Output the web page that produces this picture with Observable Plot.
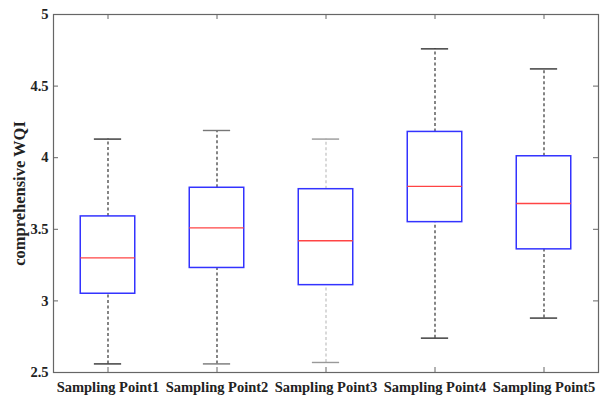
<!DOCTYPE html>
<html>
<head>
<meta charset="utf-8">
<script src="https://cdn.jsdelivr.net/npm/d3@7"></script>
<script src="https://cdn.jsdelivr.net/npm/@observablehq/plot@0.6"></script>
<style>
  html, body { margin: 0; padding: 0; background: #fff; }
</style>
</head>
<body>
<div id="chart"></div>
<script>
const categories = ["Sampling Point1", "Sampling Point2", "Sampling Point3", "Sampling Point4", "Sampling Point5"];
const lowWhisker = [2.56, 2.56, 2.57, 2.74, 2.88];
const q1Values   = [3.05, 3.23, 3.11, 3.55, 3.36];
const medians    = [3.30, 3.51, 3.42, 3.80, 3.68];
const q3Values   = [3.59, 3.79, 3.78, 4.18, 4.01];
const highWhisker= [4.13, 4.19, 4.13, 4.76, 4.62];
const yTicks = [2.5, 3, 3.5, 4, 4.5, 5];

const data = categories.map((cat, i) => ({
  cat, i, lo: lowWhisker[i], q1: q1Values[i], med: medians[i], q3: q3Values[i], hi: highWhisker[i]
}));

const W = 601, H = 395, mL = 53, mR = 3, mT = 14, mB = 23;
const plotW = W - mL - mR, plotH = H - mT - mB;
const band = plotW / categories.length;
const boxInset = band * 0.25;
const capInset = band * 0.375;
const whiskerColor = d => d.i === 2 ? "#bbb" : "#222";
const capColor = d => d.i === 2 ? "#999" : (d.i === 1 ? "#777" : "#333");
const font = "'Liberation Serif', 'Times New Roman', serif";

const chart = Plot.plot({
  width: W, height: H,
  marginLeft: mL, marginRight: mR, marginTop: mT, marginBottom: mB,
  style: {fontFamily: font, fontSize: "14.5px", fontWeight: "bold", color: "#222", background: "#fff"},
  x: {type: "band", domain: categories, padding: 0},
  y: {domain: [2.5, 5]},
  marks: [
    Plot.frame({stroke: "#666", strokeWidth: 1.2}),
    // inward ticks
    Plot.ruleY(yTicks.slice(1, -1), {y: d => d, stroke: "#666", insetRight: plotW - 5}),
    Plot.ruleY(yTicks.slice(1, -1), {y: d => d, stroke: "#666", insetLeft: plotW - 5}),
    Plot.ruleX(categories, {x: d => d, stroke: "#666", insetTop: plotH - 5}),
    Plot.ruleX(categories, {x: d => d, stroke: "#666", insetBottom: plotH - 5}),
    // whiskers
    Plot.ruleX(data, {x: "cat", y1: "q3", y2: "hi", stroke: whiskerColor, strokeDasharray: "3,2.5", strokeWidth: 1.1}),
    Plot.ruleX(data, {x: "cat", y1: "lo", y2: "q1", stroke: whiskerColor, strokeDasharray: "3,2.5", strokeWidth: 1.1}),
    Plot.tickY(data, {x: "cat", y: "hi", stroke: capColor, strokeWidth: 1.4, insetLeft: capInset, insetRight: capInset}),
    Plot.tickY(data, {x: "cat", y: "lo", stroke: capColor, strokeWidth: 1.4, insetLeft: capInset, insetRight: capInset}),
    // boxes
    Plot.barY(data, {x: "cat", y1: "q1", y2: "q3", fill: "none", stroke: "#3333ff", strokeWidth: 1.5, insetLeft: boxInset, insetRight: boxInset}),
    Plot.tickY(data, {x: "cat", y: "med", stroke: "#ff4444", strokeWidth: 1.3, insetLeft: boxInset, insetRight: boxInset}),
    // axes
    Plot.axisY({ticks: yTicks, tickFormat: d => String(d), tickSize: 0, tickPadding: 5, label: null, fontSize: 14.5}),
    Plot.axisY({ticks: [], label: "comprehensive WQI", labelAnchor: "center", labelArrow: "none", labelOffset: 40, fontSize: 16.5}),
    Plot.axisX({tickSize: 0, tickPadding: 9, label: null, fontSize: 14.5})
  ]
});
document.getElementById("chart").appendChild(chart);
</script>
</body>
</html>
